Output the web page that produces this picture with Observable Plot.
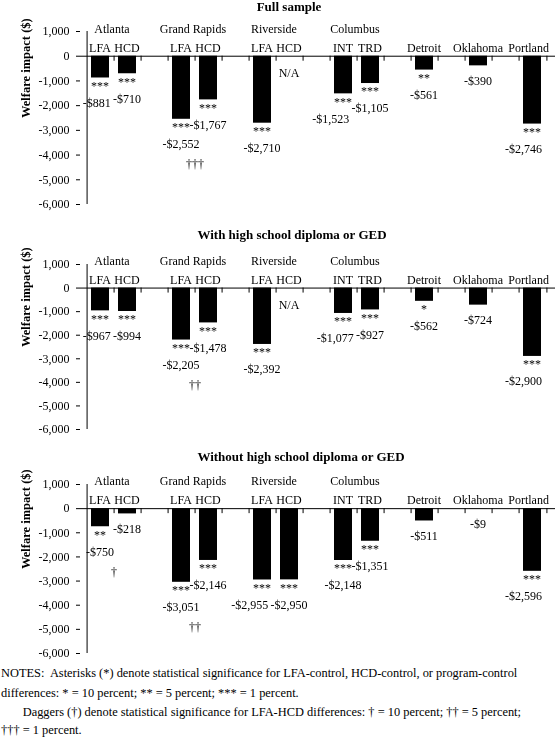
<!DOCTYPE html>
<html>
<head>
<meta charset="utf-8">
<script src="https://cdn.jsdelivr.net/npm/d3@7"></script>
<script src="https://cdn.jsdelivr.net/npm/@observablehq/plot@0.6"></script>
<style>
  body { margin: 0; background: #fff; }
  #page { position: relative; width: 558px; height: 756px; overflow: hidden;
          font-family: "Liberation Serif", "Times New Roman", serif; color: #000; background: #fff; }
  #page svg, #page svg text { font-family: "Liberation Serif", "Times New Roman", serif !important; }
  #page svg.panel { background: transparent !important; will-change: transform; }
  .title { position: absolute; width: 500px; text-align: center; font-weight: bold;
           font-size: 13px; line-height: 16px; white-space: nowrap; z-index: 2; }
  .note { position: absolute; left: 1px; font-size: 12.4px; line-height: 18px; white-space: pre; }
  .panel { position: absolute; left: 0; }
</style>
</head>
<body>
<div id="page"></div>
<script>
// ---------------- data ----------------
const barKeys  = ["Atlanta LFA", "Atlanta HCD", "Grand Rapids LFA", "Grand Rapids HCD",
                  "Riverside LFA", "Riverside HCD", "Columbus INT", "Columbus TRD",
                  "Detroit", "Oklahoma", "Portland"];
const barTicks = ["LFA", "HCD", "LFA", "HCD", "LFA", "HCD", "INT", "TRD", "Detroit", "Oklahoma", "Portland"];
const barSite  = ["Atlanta", "Atlanta", "Grand Rapids", "Grand Rapids", "Riverside", "Riverside",
                  "Columbus", "Columbus", "Detroit", "Oklahoma", "Portland"];
const cities   = ["Atlanta", "Grand Rapids", "Riverside", "Columbus"];

const panelTitles = ["Full sample", "With high school diploma or GED", "Without high school diploma or GED"];

const fullValues    = [-881, -710, -2552, -1767, -2710, null, -1523, -1105, -561, -390, -2746];
const withValues    = [-967, -994, -2205, -1478, -2392, null, -1077, -927, -562, -724, -2900];
const withoutValues = [-750, -218, -3051, -2146, -2955, -2950, -2148, -1351, -511, -9, -2596];

const fullStars    = ["***", "***", "***", "***", "***", "", "***", "***", "**", "", "***"];
const withStars    = ["***", "***", "***", "***", "***", "", "***", "***", "*", "", "***"];
const withoutStars = ["**", "", "***", "***", "***", "***", "***", "***", "", "", "***"];

// LFA-HCD significance, one entry per city pair
const fullDaggers    = ["", "\u2020\u2020\u2020", "", ""];
const withDaggers    = ["", "\u2020\u2020", "", ""];
const withoutDaggers = ["\u2020", "\u2020\u2020", "", ""];

const yTicks = [1000, 0, -1000, -2000, -3000, -4000, -5000, -6000];
const yLabel = "Welfare impact ($)";

const notes = [
  "NOTES:  Asterisks (*) denote statistical significance for LFA-control, HCD-control, or program-control",
  "differences: * = 10 percent; ** = 5 percent; *** = 1 percent.",
  "       Daggers (\u2020) denote statistical significance for LFA-HCD differences: \u2020 = 10 percent; \u2020\u2020 = 5 percent;",
  "\u2020\u2020\u2020 = 1 percent."
];

// ---------------- layout helpers ----------------
const slots = [];
barKeys.forEach((k, i) => {
  slots.push(k);
  if (i < barKeys.length - 1 && barSite[i] !== barSite[i + 1]) slots.push("gap" + i);
});

const FONT = "'Liberation Serif', 'Times New Roman', serif";
const fmtTick = d => d3.format(",")(d).replace("\u2212", "-");
const money = v => "-$" + d3.format(",")(-v);
const ctx = document.createElement("canvas").getContext("2d");
ctx.font = "12px 'Liberation Serif'";
const measure = s => ctx.measureText(s).width;

const page = document.getElementById("page");

function panel(values, stars, daggers, title, cfg) {
  const W = 558, ML = 80, MR = 5, MT = 31;
  const {top, plotHeight, height, titleY, titleX} = cfg;
  const bw = (W - ML - MR) / slots.length;
  const k = plotHeight / 7000;

  const rows = barKeys.map((key, i) => {
    const v = values[i];
    const text = v == null ? "N/A" : money(v);
    return {key, i, tick: barTicks[i], value: v, stars: stars[i], text,
            slot: slots.indexOf(key), w: measure(text), off: v == null ? 17 : (stars[i] ? 25 : 15), dx: -1,
            tw: measure(barTicks[i]), tdx: -1};
  });
  for (let i = 0; i < rows.length - 1; i++) {
    const a = rows[i], b = rows[i + 1];
    if (barSite[i] !== barSite[i + 1] || a.value == null || b.value == null) continue;
    const ya = -a.value * k + a.off, yb = -b.value * k + b.off;
    if (Math.abs(ya - yb) < 12) {
      const ov = (a.w + b.w) / 2 + 3 - bw;
      if (ov > 0) a.dx -= ov;
    }
  }
  rows.forEach(r => {
    const cx = ML + bw * (r.slot + 0.5);
    const ex = cx + r.dx + r.w / 2 - (W - MR - 5);
    if (ex > 0) r.dx -= ex;
    const et = cx + r.tdx + r.tw / 2 - (W - MR + 2);
    if (et > 0) r.tdx -= et;
  });

  const txt = {fontSize: 12, fontFamily: FONT, fill: "black"};
  const valueMarks = d3.groups(rows, r => r.dx + "|" + r.off).map(([, g]) =>
    Plot.text(g, {x: "key", y: r => r.value ?? 0, text: "text", dx: g[0].dx, dy: g[0].off, lineAnchor: "middle", ...txt}));
  const tickMarks = d3.groups(rows, r => r.tdx).map(([tdx, g]) =>
    Plot.text(g, {x: "key", y: () => 0, text: "tick", dx: tdx, dy: -8, lineAnchor: "middle", ...txt}));

  const pairRows = cities.map((c, j) => {
    const i = barSite.indexOf(c);
    return {key: barKeys[i], value: values[i], city: c, dag: daggers[j]};
  });

  const chart = Plot.plot({
    width: W, height, marginTop: MT, marginLeft: ML, marginRight: MR, marginBottom: height - MT - plotHeight,
    style: {fontFamily: FONT, fontSize: "12px", color: "black"},
    x: {type: "band", domain: slots, padding: 0, axis: null},
    y: {domain: [-6000, 1000], axis: null},
    marks: [
      Plot.barY(rows.filter(r => r.value != null), {x: "key", y: "value", fill: "black", insetLeft: 4, insetRight: 5}),
      Plot.ruleY([0], {stroke: "black", insetRight: -2}),
      Plot.ruleX([slots[0]], {x: d => d, dx: -bw / 2, stroke: "black"}),
      Plot.ruleX(slots.slice(1), {x: d => d, dx: -bw / 2, y1: () => 0, y2: () => 0, insetTop: 5, stroke: "black"}),
      Plot.ruleX([slots[slots.length - 1]], {x: d => d, dx: bw / 2, y1: () => 0, y2: () => 0, insetTop: 5, stroke: "black"}),
      Plot.axisY({ticks: yTicks, tickFormat: fmtTick, tickSize: 4, tickPadding: 7, label: null, fontSize: 12, fontFamily: FONT}),
      Plot.text([yLabel], {text: d => d, frameAnchor: "left", dx: -55, rotate: -90, fontWeight: "bold", ...txt, fontSize: 12.5}),
      ...tickMarks,
      Plot.text(pairRows, {x: "key", y: () => 0, text: "city", dx: bw / 2 - 3, dy: -27, ...txt}),
      Plot.text(rows.filter(r => r.stars), {x: "key", y: "value", text: "stars", dx: -1, dy: 8, ...txt}),
      ...valueMarks,
      Plot.text(pairRows.filter(d => d.dag), {x: "key", y: "value", text: "dag", dx: bw / 2 - 1, dy: 45, ...txt})
    ]
  });
  chart.classList.add("panel");
  chart.style.top = top + "px";
  page.appendChild(chart);

  const t = document.createElement("div");
  t.className = "title";
  t.textContent = title;
  t.style.top = (titleY - 8) + "px";
  t.style.left = (titleX - 250) + "px";
  page.appendChild(t);
}

panel(fullValues, fullStars, fullDaggers, panelTitles[0], {top: 0, plotHeight: 173, height: 233, titleY: 7, titleX: 289});
panel(withValues, withStars, withDaggers, panelTitles[1], {top: 233, plotHeight: 165, height: 220, titleY: 235, titleX: 292});
panel(withoutValues, withoutStars, withoutDaggers, panelTitles[2], {top: 453, plotHeight: 169, height: 207, titleY: 457, titleX: 301});

const noteTops = [664, 684, 703, 721];
notes.forEach((n, i) => {
  const d = document.createElement("div");
  d.className = "note";
  d.textContent = n;
  d.style.top = noteTops[i] + "px";
  page.appendChild(d);
});
</script>
</body>
</html>
